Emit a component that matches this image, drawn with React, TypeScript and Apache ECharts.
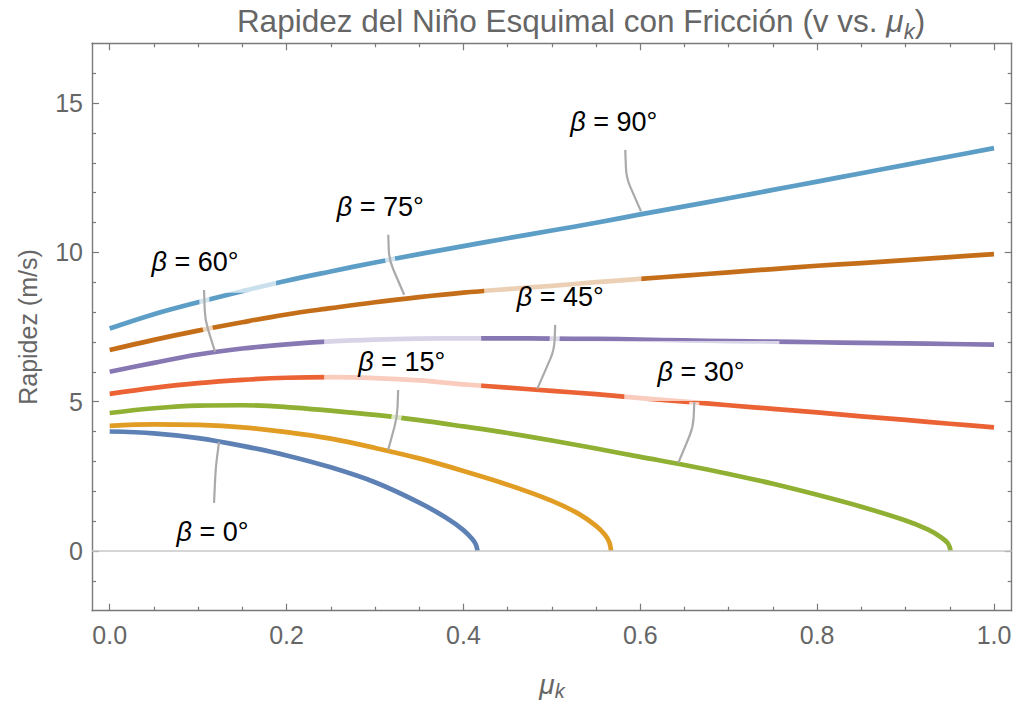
import React, { useEffect, useRef } from "react";
import * as echarts from "echarts";

const FONT = "'Liberation Sans', Arial, Helvetica, sans-serif";
const GRAY_TEXT = "#666666";
const FRAME = "#7a7a7a";

// ---- data ----
const muGrid = [0, 0.05, 0.1, 0.15, 0.2, 0.25, 0.3, 0.35, 0.4, 0.45, 0.5, 0.55, 0.6, 0.65, 0.7, 0.75, 0.8, 0.85, 0.9, 0.95, 1.0];
const v90 = [7.45, 7.93, 8.33, 8.70, 9.05, 9.36, 9.66, 9.94, 10.21, 10.47, 10.73, 10.99, 11.27, 11.54, 11.81, 12.09, 12.37, 12.65, 12.93, 13.21, 13.49];
const v75 = [6.73, 7.07, 7.38, 7.66, 7.92, 8.13, 8.33, 8.50, 8.65, 8.77, 8.88, 9.00, 9.11, 9.22, 9.33, 9.44, 9.55, 9.64, 9.74, 9.84, 9.94];
const v60 = [6.00, 6.30, 6.58, 6.78, 6.92, 7.02, 7.08, 7.11, 7.12, 7.12, 7.11, 7.10, 7.08, 7.05, 7.03, 7.01, 6.99, 6.97, 6.95, 6.93, 6.91];
const v45 = [5.26, 5.46, 5.62, 5.73, 5.80, 5.82, 5.79, 5.71, 5.58, 5.47, 5.36, 5.25, 5.12, 5.00, 4.88, 4.76, 4.64, 4.51, 4.39, 4.26, 4.14];
const mu30 = [0, 0.05, 0.1, 0.15, 0.2, 0.25, 0.3, 0.35, 0.4, 0.45, 0.5, 0.55, 0.6, 0.65, 0.7, 0.75, 0.8, 0.85, 0.9, 0.925, 0.94, 0.948, 0.951];
const v30 = [4.62, 4.78, 4.87, 4.88, 4.82, 4.70, 4.56, 4.38, 4.17, 3.95, 3.70, 3.43, 3.15, 2.88, 2.58, 2.25, 1.88, 1.48, 1.02, 0.72, 0.46, 0.25, 0];
const mu15 = [0, 0.05, 0.1, 0.15, 0.2, 0.25, 0.3, 0.35, 0.4, 0.45, 0.5, 0.53, 0.55, 0.56, 0.565, 0.567];
const v15 = [4.19, 4.24, 4.22, 4.14, 3.98, 3.76, 3.45, 3.10, 2.68, 2.22, 1.68, 1.25, 0.84, 0.54, 0.29, 0];
const mu0 = [0, 0.05, 0.1, 0.15, 0.2, 0.25, 0.3, 0.35, 0.38, 0.4, 0.41, 0.414, 0.416];
const v0 = [4.00, 3.94, 3.78, 3.52, 3.20, 2.80, 2.30, 1.62, 1.12, 0.70, 0.40, 0.22, 0];

const curveAngles = [0, 15, 30, 45, 60, 75, 90];
const curveColors = ["#5e81b5", "#e19c24", "#8fb032", "#eb6235", "#8778b3", "#c56e1a", "#5d9ec7"];
const curveMu = [mu0, mu15, mu30, muGrid, muGrid, muGrid, muGrid];
const curveV = [v0, v15, v30, v45, v60, v75, v90];

// ---- axis ticks ----
const xMajorTicks = [0, 0.2, 0.4, 0.6, 0.8, 1.0];
const xMinorTicks = [0.05, 0.1, 0.15, 0.25, 0.3, 0.35, 0.45, 0.5, 0.55, 0.65, 0.7, 0.75, 0.85, 0.9, 0.95];
const yMajorTicks = [0, 5, 10, 15];
const yMinorTicks = [-1, 1, 2, 3, 4, 6, 7, 8, 9, 11, 12, 13, 14, 16];

// ---- callout labels (data coordinates) ----
const labelAngles = [90, 75, 60, 45, 30, 15, 0];
const labelX = [0.570, 0.306, 0.0965, 0.5095, 0.6687, 0.3302, 0.1163];
const labelY = [14.36, 11.52, 9.68, 8.51, 6.00, 6.33, 0.64];
const leaderTopX = [0.583, 0.315, 0.1067, 0.5038, 0.6611, 0.3262, 0.118];
const leaderTopY = [13.43, 10.59, 8.74, 7.57, 4.99, 5.39, 1.61];
const leaderBendX = [0.5842, 0.316, 0.1078, 0.5027, 0.6599, 0.3251, 0.1199];
const leaderBendY = [12.50, 9.75, 7.74, 6.73, 4.15, 4.49, 2.81];
const anchorX = [0.6008, 0.333, 0.1191, 0.4835, 0.643, 0.3149, 0.1237];
const anchorY = [11.37, 8.58, 6.67, 5.43, 2.95, 3.38, 3.65];

// translucent label backgrounds that lighten the curves behind them
const fadeX0 = [0.0105, 0.2425, 0.4235, 0.5819, 0.5085];
const fadeX1 = [0.1882, 0.4201, 0.6012, 0.7573, 0.5819];
const fadeY0 = [8.643, 5.327, 7.538, 5.025, 6.399];
const fadeY1 = [10.42, 7.236, 9.414, 7.035, 7.035];

function valueAxis(kind: "x" | "y", position: string, major: boolean, withLabels: boolean, withLine: boolean) {
  const isX = kind === "x";
  const ticks = major ? (isX ? xMajorTicks : yMajorTicks) : isX ? xMinorTicks : yMinorTicks;
  return {
    type: "value",
    position,
    min: isX ? -0.02 : -2,
    max: isX ? 1.02 : 17,
    gridIndex: 0,
    axisLine: { show: withLine, onZero: false, lineStyle: { color: FRAME, width: 1.4 } },
    axisTick: {
      show: true,
      inside: true,
      length: major ? 7 : 4,
      customValues: ticks,
      lineStyle: { color: FRAME, width: 1.2 },
    },
    axisLabel: withLabels
      ? {
          show: true,
          customValues: ticks,
          margin: isX ? 12 : 9,
          color: GRAY_TEXT,
          fontSize: 25,
          fontFamily: FONT,
          formatter: (v: number) => (isX ? v.toFixed(1) : String(Math.round(v))),
        }
      : { show: false },
    splitLine: { show: false },
    minorTick: { show: false },
  };
}

export default function App() {
  const ref = useRef<HTMLDivElement>(null);

  useEffect(() => {
    if (!ref.current) return;
    const chart = echarts.init(ref.current, undefined, { renderer: "svg" });

    const lineSeries = curveAngles.map((a, ci) => ({
      type: "line",
      name: "β = " + a + "°",
      xAxisIndex: 0,
      yAxisIndex: 0,
      data: curveMu[ci].map((m, i) => [m, curveV[ci][i]]),
      smooth: 0.35,
      showSymbol: false,
      symbol: "none",
      silent: true,
      z: 2,
      lineStyle: { color: curveColors[ci], width: 4.7, cap: "butt", join: "round" },
    }));

    const zeroSeries = {
      type: "line",
      xAxisIndex: 0,
      yAxisIndex: 0,
      data: [],
      z: 1,
      silent: true,
      markLine: {
        silent: true,
        symbol: "none",
        label: { show: false },
        lineStyle: { color: "#c8c8c8", width: 1.6, type: "solid" },
        data: [{ yAxis: 0 }],
      },
    };

    const fadeSeries = {
      type: "custom",
      coordinateSystem: "cartesian2d",
      xAxisIndex: 0,
      yAxisIndex: 0,
      z: 3,
      silent: true,
      clip: false,
      encode: { x: [0, 1], y: [2, 3] },
      data: fadeX0.map((x, i) => [x, fadeX1[i], fadeY0[i], fadeY1[i]]),
      renderItem: (_p: any, api: any) => {
        const p0 = api.coord([api.value(0), api.value(3)]);
        const p1 = api.coord([api.value(1), api.value(2)]);
        return {
          type: "rect",
          shape: { x: p0[0], y: p0[1], width: p1[0] - p0[0], height: p1[1] - p0[1] },
          style: { fill: "rgba(255,255,255,0.68)" },
        };
      },
    };

    const labelRich = {
      b: { fontStyle: "italic", fontSize: 27, fontFamily: FONT, fill: "#000" },
      n: { fontSize: 27, fontFamily: FONT, fill: "#000" },
    };

    const calloutSeries = {
      type: "custom",
      coordinateSystem: "cartesian2d",
      xAxisIndex: 0,
      yAxisIndex: 0,
      z: 4,
      silent: true,
      clip: false,
      encode: { x: [0, 2, 4, 6], y: [1, 3, 5, 7] },
      data: labelAngles.map((_a, i) => [
        labelX[i], labelY[i], leaderTopX[i], leaderTopY[i], leaderBendX[i], leaderBendY[i], anchorX[i], anchorY[i],
      ]),
      renderItem: (params: any, api: any) => {
        const L = api.coord([api.value(0), api.value(1)]);
        const T = api.coord([api.value(2), api.value(3)]);
        const B = api.coord([api.value(4), api.value(5)]);
        const A = api.coord([api.value(6), api.value(7)]);
        const toward = (p: number[], q: number[], d: number) => {
          const dx = q[0] - p[0];
          const dy = q[1] - p[1];
          const len = Math.hypot(dx, dy) || 1;
          return [p[0] + (dx / len) * d, p[1] + (dy / len) * d];
        };
        const b1 = toward(B, T, 10);
        const b2 = toward(B, A, 10);
        const Ah = toward(A, B, 7);
        const head = `M${T[0]} ${T[1]} L${b1[0]} ${b1[1]} Q${B[0]} ${B[1]} ${b2[0]} ${b2[1]}`;
        const angle = labelAngles[params.dataIndex];
        return {
          type: "group",
          children: [
            {
              type: "path",
              shape: { pathData: head + ` L${Ah[0]} ${Ah[1]}` },
              style: { fill: "none", stroke: "rgba(255,255,255,0.72)", lineWidth: 10 },
            },
            {
              type: "path",
              shape: { pathData: head + ` L${A[0]} ${A[1]}` },
              style: { fill: "none", stroke: "#aaaaaa", lineWidth: 2.2 },
            },
            {
              type: "text",
              x: L[0],
              y: L[1],
              style: {
                text: "{b|β}{n| = " + angle + "°}",
                rich: labelRich,
                align: "center",
                verticalAlign: "middle",
                fill: "#000",
                fontSize: 27,
                fontFamily: FONT,
              },
            },
          ],
        };
      },
    };

    const option: any = {
      animation: false,
      backgroundColor: "#ffffff",
      grid: { left: 92, right: 4.3, top: 43.3, bottom: 92.3, containLabel: false },
      xAxis: [
        valueAxis("x", "bottom", true, true, true),
        valueAxis("x", "top", true, false, true),
        valueAxis("x", "bottom", false, false, false),
        valueAxis("x", "top", false, false, false),
      ],
      yAxis: [
        valueAxis("y", "left", true, true, true),
        valueAxis("y", "right", true, false, true),
        valueAxis("y", "left", false, false, false),
        valueAxis("y", "right", false, false, false),
      ],
      series: [zeroSeries, ...lineSeries, fadeSeries, calloutSeries],
      graphic: [
        {
          type: "text",
          x: 581,
          y: 21,
          silent: true,
          style: {
            text: "{a|Rapidez del Niño Esquimal con Fricción (v vs. }{m|μ}{k|k}{a|)}",
            align: "center",
            verticalAlign: "middle",
            fill: GRAY_TEXT,
            fontSize: 31.5,
            fontFamily: FONT,
            rich: {
              a: { fontSize: 31.5, fontFamily: FONT, fill: GRAY_TEXT, lineHeight: 42, verticalAlign: "middle" },
              m: { fontSize: 31.5, fontFamily: FONT, fontStyle: "italic", fill: GRAY_TEXT, lineHeight: 42, verticalAlign: "middle" },
              k: { fontSize: 22, fontFamily: FONT, fontStyle: "italic", fill: GRAY_TEXT, lineHeight: 19, verticalAlign: "bottom" },
            },
          },
        },
        {
          type: "text",
          x: 552,
          y: 684,
          silent: true,
          style: {
            text: "{m|μ}{k|k}",
            align: "center",
            verticalAlign: "middle",
            fill: GRAY_TEXT,
            fontSize: 28,
            fontFamily: FONT,
            rich: {
              m: { fontSize: 28, fontFamily: FONT, fontStyle: "italic", fill: GRAY_TEXT, lineHeight: 34, verticalAlign: "middle" },
              k: { fontSize: 20, fontFamily: FONT, fontStyle: "italic", fill: GRAY_TEXT, lineHeight: 17, verticalAlign: "bottom" },
            },
          },
        },
        {
          type: "text",
          x: 28,
          y: 327,
          rotation: Math.PI / 2,
          silent: true,
          style: {
            text: "Rapidez (m/s)",
            align: "center",
            verticalAlign: "middle",
            fill: GRAY_TEXT,
            fontSize: 25,
            fontFamily: FONT,
          },
        },
      ],
    };

    chart.setOption(option);
    return () => chart.dispose();
  }, []);

  return (
    <div
      ref={ref}
      style={{ position: "fixed", left: 0, top: 0, width: 1016, height: 703, background: "#fff" }}
    />
  );
}
